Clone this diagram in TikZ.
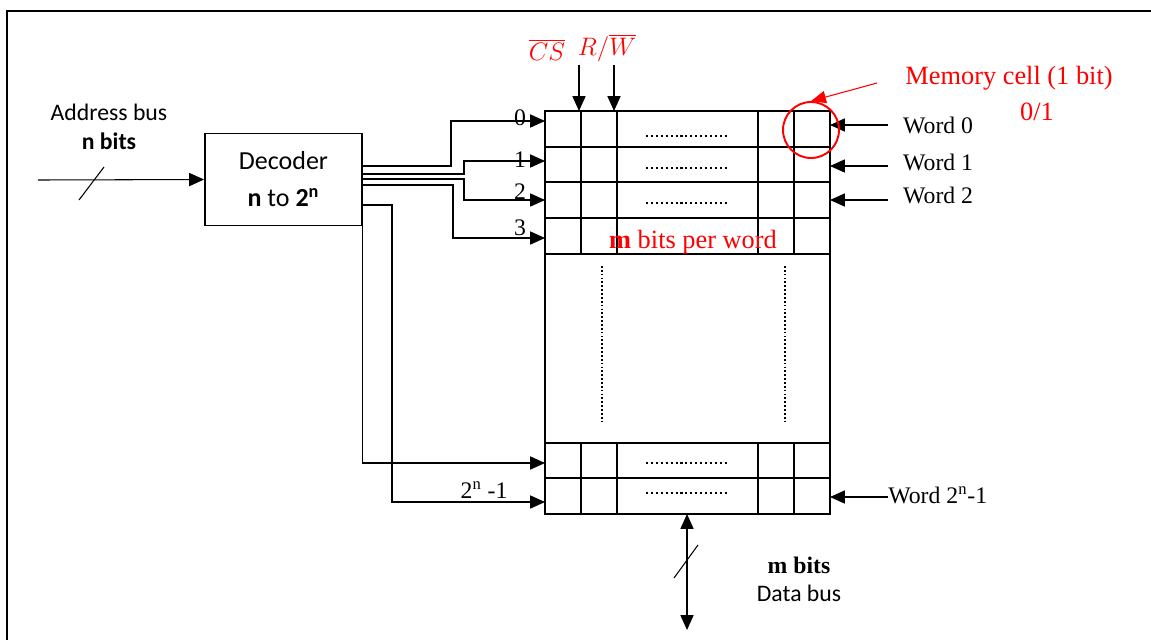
\documentclass[tikz,border=0pt]{standalone}
\usepackage{fontspec}
\setmainfont{Liberation Serif}
\newfontfamily\calibrifont{Carlito}
\usetikzlibrary{arrows.meta,calc}

\begin{document}
\begin{tikzpicture}[x=0.02cm,y=-0.02cm,
        wire/.style={line width=0.6pt},
        arr/.style={line width=0.6pt,-{Triangle[length=8.5pt,width=7.5pt]}},
        cellgrid/.style={line width=1.1pt},
        rowdots/.style={line width=1.5pt,dash pattern=on 1.2pt off 1.6pt},
        coldots/.style={line width=1.4pt,dash pattern=on 1pt off 1.2pt},
        times/.style={font=\fontsize{13.5}{16}\selectfont},
        calib/.style={font=\calibrifont\fontsize{13.5}{16.5}\selectfont},
        ctrl/.style={text=notered,font=\fontsize{13.5}{16}\selectfont},
        bigred/.style={text=notered,font=\fontsize{15}{18}\selectfont}]

        % Define colors for the notes
        \definecolor{notered}{rgb}{1,0,0}

        % Fix the size of the picture
        \useasboundingbox (0,0) rectangle (1151,640);

        % Draw frame (top and left edge only)
        \draw[line width=1.2pt] (1151,11) -- (7,11) -- (7,640);

        % Draw memory array
        \draw[line width=1.6pt] (545,111) rectangle (830,514);
        \foreach \y in {147,182,218,254,443,478}
            \draw[cellgrid] (545,\y) -- (830,\y);
        \foreach \x in {581,617,758,794} {
            \draw[cellgrid] (\x,111) -- (\x,254);
            \draw[cellgrid] (\x,443) -- (\x,514);
        }
        \foreach \y in {136,168,203,463,493}
            \draw[rowdots] (646,\y) -- (727,\y); % dots in the rows
        \draw[coldots] (602,266) -- (602,422); % dots down left
        \draw[coldots] (785,266) -- (785,422); % dots down right
        \node[bigred] (perword) at (693,242) {\textbf{m} bits per word};

        % Row inputs of the array
        \coordinate (r0) at (545,121);
        \coordinate (r1) at (545,161);
        \coordinate (r2) at (545,200);
        \coordinate (r3) at (545,238);
        \coordinate (r4) at (545,463);
        \coordinate (r5) at (545,502);

        % Draw decoder
        \node[draw,line width=1.1pt,minimum width=3.14cm,minimum height=1.84cm,
              align=center,font=\calibrifont\fontsize{14.8}{21}\selectfont]
              (dec) at (283.5,179.5) {Decoder\\\textbf{n} to \textbf{2\textsuperscript{n}}};

        % Decoder outputs
        \coordinate (o0) at (362,166);
        \coordinate (o1) at (362,174);
        \coordinate (o2) at (362,179);
        \coordinate (o3) at (362,185);
        \coordinate (o5) at (362,205);
        \draw[arr] (o0) -- (451,166) |- (r0);
        \draw[arr] (o1) -- (464,174) |- (r1);
        \draw[arr] (o2) -- (464,179) |- (r2);
        \draw[arr] (o3) -- (453,185) |- (r3);
        \draw[arr] (dec.south east) |- (r4);
        \draw[arr] (o5) -- (392,205) |- (r5);
        \node[times] (n0) at (520,118) {0};
        \node[times] (n1) at (520,160) {1};
        \node[times] (n2) at (520,192) {2};
        \node[times] (n3) at (520,228) {3};
        \node[times] (n5) at (484,490) {2\textsuperscript{n} -1};

        % Address bus
        \node[calib,align=center] (abus) at (109,127) {Address bus\\\textbf{n bits}};
        \coordinate (ain) at (38,180);
        \draw[arr] (ain) -- (dec.west);
        \draw[wire] (79,200) -- (104,167);

        % Control inputs
        \node[ctrl] (cs) at (547,50) {$\overline{CS}$};
        \node[ctrl] (rw) at (607,48) {$R/\overline{W}$};
        \coordinate (csin) at (579,65);
        \coordinate (rwin) at (614,65);
        \draw[arr] (csin) -- (579,111);
        \draw[arr] (rwin) -- (614,111);

        % Word lines on the right
        \node[times,anchor=west] (word0) at (897,125) {Word 0};
        \node[times,anchor=west] (word1) at (897,162) {Word 1};
        \node[times,anchor=west] (word2) at (897,195) {Word 2};
        \node[times,anchor=west,inner sep=0pt] (word5) at (888,495) {Word 2\textsuperscript{n}-1};
        \coordinate (s0) at (888,125);
        \coordinate (s1) at (888,166);
        \coordinate (s2) at (888,200);
        \coordinate (s5) at (888,497);
        \draw[arr] (s0) -- (830,125);
        \draw[arr] (s1) -- (830,166);
        \draw[arr] (s2) -- (830,200);
        \draw[arr] (s5) -- (830,497);

        % Memory cell note
        \node[draw=notered,line width=1.1pt,circle,minimum size=1.12cm,inner sep=0pt] (cell) at (811,130) {};
        \node[bigred] (mcell) at (1009,78) {Memory cell (1 bit)};
        \node[bigred] (bit) at (1037,112) {0/1};
        \coordinate (mcin) at (877,83);
        \draw[notered,line width=0.6pt,-{Triangle[length=8.5pt,width=7pt]}] (mcin) -- (cell.north);

        % Data bus
        \coordinate (dtop) at (687,514);
        \coordinate (dbot) at (687,630);
        \draw[line width=0.6pt,{Triangle[length=8.5pt,width=7.5pt]}-{Triangle[length=8.5pt,width=7.5pt]}] (dtop) -- (dbot);
        \draw[wire] (674,578) -- (698,545);
        \node[align=center,font=\fontsize{13.5}{16}\selectfont] (dbus) at (799,579) {\textbf{m bits}\\{\calibrifont Data bus}};
\end{tikzpicture}
\end{document}
